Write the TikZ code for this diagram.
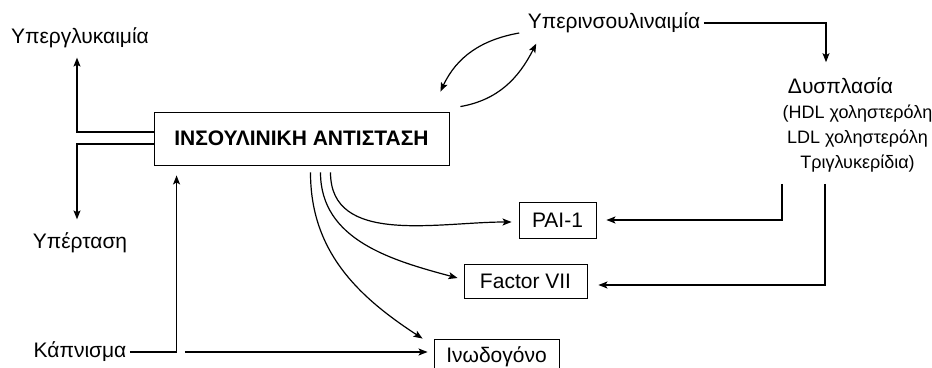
\documentclass[tikz,border=0pt]{standalone}
\usepackage{fontspec}
\setmainfont{Liberation Sans}
\usetikzlibrary{arrows.meta}

\begin{document}
\begin{tikzpicture}[x=1pt,y=1pt,
    font=\fontsize{21}{25}\selectfont,
    box/.style={draw, line width=0.9pt, inner sep=0pt},
    arr/.style={-{Stealth[length=9pt,width=7pt,inset=2pt]}, line width=1.2pt}]
    \useasboundingbox (0,0) rectangle (932,367);

    % Main box
    \node[box, minimum width=295, minimum height=53] (insres) at (301.5,228.5)
        {\bfseries ΙΝΣΟΥΛΙΝΙΚΗ ΑΝΤΙΣΤΑΣΗ};

    % Labels
    \node (hyperglyk) at (80,329) {Υπεργλυκαιμία};
    \node (hypertasi) at (80,124) {Υπέρταση};
    \node (kapnisma) at (80,15) {Κάπνισμα};
    \node (hyperins) at (614,344) {Υπερινσουλιναιμία};
    \node[align=center] (dysplasia) at (857.5,242.5)
        {Δυσπλασία\hspace*{34pt}\\\fontsize{18}{25}\selectfont(HDL χοληστερόλη\\
         \fontsize{18}{25}\selectfont LDL χοληστερόλη\\\fontsize{18}{25}\selectfont Τριγλυκερίδια)};

    % Boxes of the factors
    \node[box, minimum width=77, minimum height=36] (pai) at (557.5,147) {PAI-1};
    \node[box, minimum width=123, minimum height=34] (factor) at (525.5,86) {Factor VII};
    \node[box, minimum width=125, minimum height=35] (inodog) at (496.5,10.5) {Ινωδογόνο};

    % Left side
    \draw[arr] ([yshift=6.5pt]insres.west) -| ([xshift=-3pt,yshift=-6pt]hyperglyk.south);
    \draw[arr] ([yshift=-5.5pt]insres.west) -| ([xshift=-3pt,yshift=10pt]hypertasi.north);

    % Smoking
    \draw[arr] (kapnisma.east) -| ([xshift=23pt,yshift=-10pt]insres.south west);
    \draw[arr] ([xshift=55pt]kapnisma.east) -- ([xshift=-6pt]kapnisma.east -| inodog.west);

    % Loop with hyperinsulinaemia
    \draw[arr] ([xshift=-5pt,yshift=-10pt]hyperins.west) to[out=190,in=65]
        ([xshift=-9pt,yshift=20pt]insres.north east);
    \draw[arr] ([xshift=11pt,yshift=5pt]insres.north east) to[out=10,in=243]
        ([xshift=12pt,yshift=-7pt]hyperins.south west);
    \draw[arr] (hyperins.east) -| ([xshift=-31.5pt,yshift=11.5pt]dysplasia.north);

    % Dyslipidaemia to factors
    \draw[arr] ([xshift=-75.5pt,yshift=-8.5pt]dysplasia.south) |- ([xshift=10pt]pai.east);
    \draw[arr] ([xshift=-32.5pt,yshift=-8.5pt]dysplasia.south) |- ([xshift=11pt,yshift=-4pt]factor.east);

    % Curves from the main box
    \draw[arr] ([xshift=29pt,yshift=-7pt]insres.south) to[out=-90,in=180] ([xshift=-7pt,yshift=-2pt]pai.west);
    \draw[arr] ([xshift=19pt,yshift=-7pt]insres.south) to[out=-90,in=165] ([xshift=-6pt,yshift=3pt]factor.west);
    \draw[arr] ([xshift=9pt,yshift=-7pt]insres.south) to[out=-90,in=147] ([xshift=-11pt]inodog.north west);
\end{tikzpicture}
\end{document}
